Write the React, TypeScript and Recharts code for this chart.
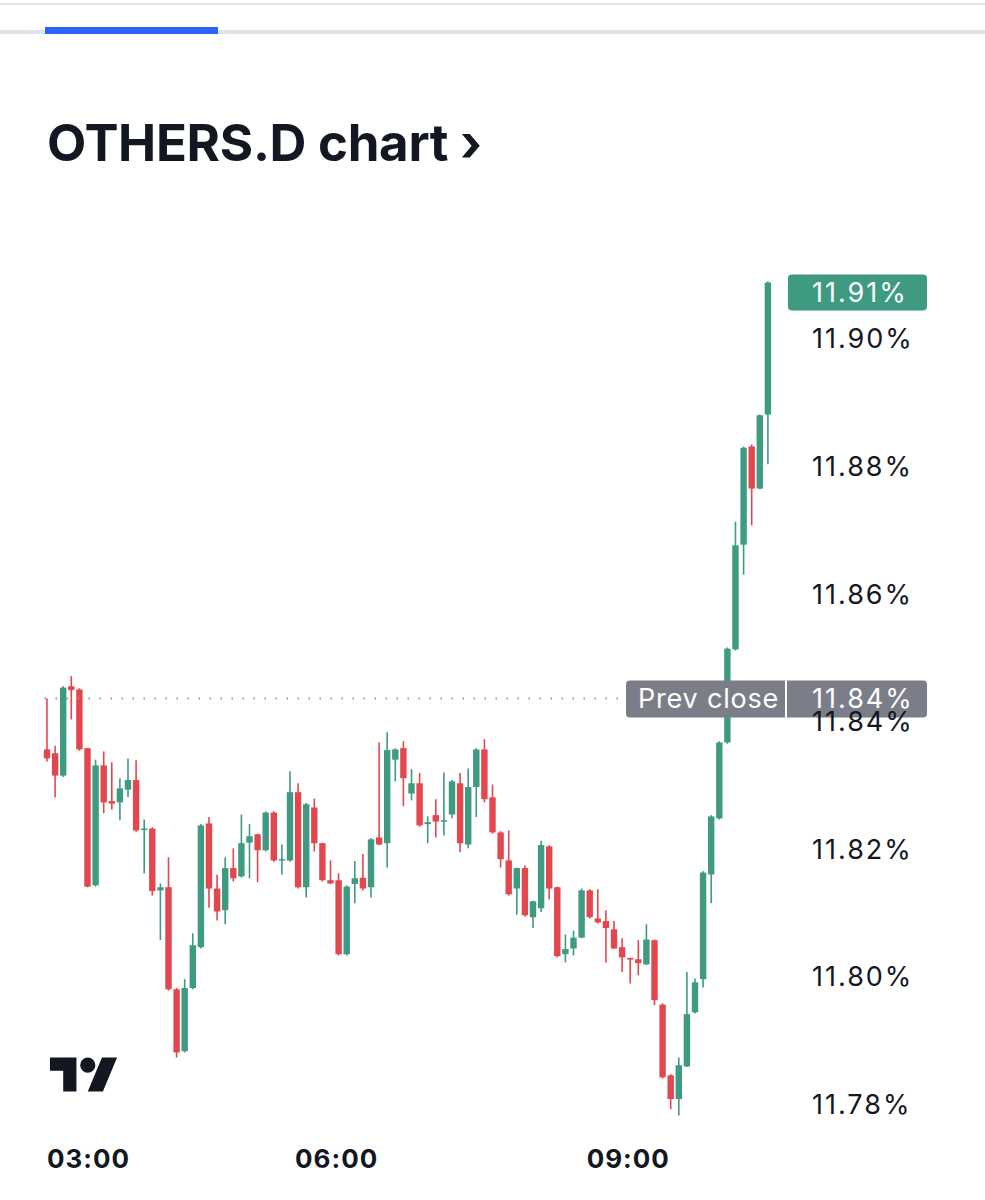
import { ComposedChart, Bar, XAxis, YAxis, ReferenceLine } from 'recharts';

// 5-minute candles, 03:00 -> 10:25
const OPENS = [
  11.8356, 11.8350, 11.8315, 11.8455, 11.8450, 11.8358, 11.8143, 11.8331, 11.8275, 11.8273,
  11.8293, 11.8308, 11.8231, 11.8232, 11.8135, 11.8140, 11.7980, 11.7883, 11.7982, 11.8046,
  11.8240, 11.8138, 11.8104, 11.8170, 11.8157, 11.8210, 11.8223, 11.8198, 11.8257, 11.8182,
  11.8182, 11.8289, 11.8140, 11.8265, 11.8209, 11.8151, 11.8151, 11.8035, 11.8145, 11.8155,
  11.8140, 11.8218, 11.8209, 11.8340, 11.8358, 11.8287, 11.8303, 11.8239, 11.8253, 11.8243,
  11.8254, 11.8303, 11.8207, 11.8297, 11.8356, 11.8281, 11.8226, 11.8182, 11.8138, 11.8170,
  11.8093, 11.8107, 11.8204, 11.8140, 11.8035, 11.8044, 11.8061, 11.8135, 11.8091, 11.8087,
  11.8074, 11.8046, 11.8029, 11.8027, 11.8019, 11.8057, 11.7956, 11.7845, 11.7808, 11.7859,
  11.7944, 11.7996, 11.8160, 11.8248, 11.8367, 11.8513, 11.8677, 11.8831, 11.8765, 11.8881,
];
const HIGHS = [
  11.8436, 11.8362, 11.8455, 11.8471, 11.8452, 11.8358, 11.8340, 11.8353, 11.8336, 11.8311,
  11.8342, 11.8339, 11.8246, 11.8234, 11.8146, 11.8187, 11.7982, 11.7996, 11.8068, 11.8239,
  11.8250, 11.8160, 11.8187, 11.8201, 11.8254, 11.8239, 11.8224, 11.8259, 11.8259, 11.8207,
  11.8322, 11.8303, 11.8272, 11.8279, 11.8210, 11.8182, 11.8162, 11.8143, 11.8181, 11.8192,
  11.8217, 11.8367, 11.8383, 11.8358, 11.8369, 11.8325, 11.8319, 11.8251, 11.8278, 11.8320,
  11.8308, 11.8319, 11.8326, 11.8358, 11.8372, 11.8301, 11.8228, 11.8229, 11.8171, 11.8174,
  11.8119, 11.8213, 11.8206, 11.8141, 11.8066, 11.8072, 11.8138, 11.8137, 11.8137, 11.8104,
  11.8087, 11.8060, 11.8030, 11.8057, 11.8082, 11.8058, 11.7958, 11.7847, 11.7873, 11.8007,
  11.7997, 11.8165, 11.8253, 11.8369, 11.8516, 11.8713, 11.8831, 11.8834, 11.8881, 11.9090,
];
const LOWS = [
  11.8337, 11.8281, 11.8313, 11.8403, 11.8354, 11.8140, 11.8141, 11.8256, 11.8262, 11.8245,
  11.8281, 11.8227, 11.8162, 11.8127, 11.8057, 11.7978, 11.7873, 11.7881, 11.7980, 11.8044,
  11.8108, 11.8088, 11.8082, 11.8149, 11.8155, 11.8154, 11.8148, 11.8196, 11.8180, 11.8160,
  11.8180, 11.8138, 11.8124, 11.8196, 11.8149, 11.8145, 11.8033, 11.8033, 11.8115, 11.8135,
  11.8124, 11.8206, 11.8171, 11.8306, 11.8267, 11.8276, 11.8235, 11.8209, 11.8218, 11.8221,
  11.8248, 11.8195, 11.8201, 11.8250, 11.8273, 11.8224, 11.8171, 11.8127, 11.8097, 11.8094,
  11.8076, 11.8101, 11.8121, 11.8030, 11.8022, 11.8033, 11.8060, 11.8091, 11.8083, 11.8022,
  11.8043, 11.8007, 11.7989, 11.8002, 11.8018, 11.7955, 11.7840, 11.7792, 11.7782, 11.7858,
  11.7942, 11.7983, 11.8115, 11.8246, 11.8365, 11.8511, 11.8630, 11.8707, 11.8764, 11.8803,
];
const CLOSES = [
  11.8342, 11.8315, 11.8453, 11.8449, 11.8356, 11.8141, 11.8331, 11.8273, 11.8271, 11.8295,
  11.8308, 11.8229, 11.8232, 11.8134, 11.8140, 11.7980, 11.7881, 11.7982, 11.8049, 11.8237,
  11.8138, 11.8102, 11.8170, 11.8154, 11.8209, 11.8220, 11.8198, 11.8257, 11.8182, 11.8184,
  11.8289, 11.8140, 11.8270, 11.8209, 11.8151, 11.8146, 11.8035, 11.8141, 11.8154, 11.8138,
  11.8215, 11.8207, 11.8355, 11.8356, 11.8311, 11.8303, 11.8237, 11.8242, 11.8243, 11.8245,
  11.8306, 11.8209, 11.8297, 11.8356, 11.8278, 11.8226, 11.8184, 11.8129, 11.8170, 11.8096,
  11.8118, 11.8206, 11.8138, 11.8032, 11.8043, 11.8061, 11.8135, 11.8093, 11.8085, 11.8076,
  11.8044, 11.8030, 11.8027, 11.8021, 11.8058, 11.7963, 11.7842, 11.7808, 11.7861, 11.7941,
  11.7991, 11.8163, 11.8251, 11.8367, 11.8514, 11.8676, 11.8829, 11.8765, 11.8880, 11.9088,
];

const START_MIN = 3 * 60;
const STEP_MIN = 5;
const TIME_TICKS = ['03:00', '06:00', '09:00'];
const PRICE_TICKS = [11.78, 11.8, 11.82, 11.84, 11.86, 11.88, 11.9];
const PREV_CLOSE = 11.8436;

const GREEN = '#3f9a82';
const RED = '#e2474d';
const GREY = '#7b7d88';
const INK = '#131722';
const FONT = 'Inter, "Noto Sans", sans-serif';

const pad = (n: number) => String(n).padStart(2, '0');

const data = OPENS.map((open, i) => {
  const m = START_MIN + i * STEP_MIN;
  return {
    time: `${pad(Math.floor(m / 60))}:${pad(m % 60)}`,
    open,
    high: HIGHS[i],
    low: LOWS[i],
    close: CLOSES[i],
    range: [LOWS[i], HIGHS[i]],
  };
});
const last = data[data.length - 1];

function Candle(props: any) {
  const { x, width, payload } = props;
  let { y, height } = props;
  if (height < 0) { y += height; height = -height; }
  const up = payload.close >= payload.open;
  const color = up ? GREEN : RED;
  const k = height / (payload.high - payload.low);
  const yO = y + (payload.high - payload.open) * k;
  const yC = y + (payload.high - payload.close) * k;
  const top = Math.min(yO, yC);
  const h = Math.max(1.5, Math.abs(yO - yC));
  const cx = x + width / 2;
  return (
    <g>
      <line x1={cx} x2={cx} y1={y} y2={y + height} stroke={color} strokeWidth={1.6} />
      <rect x={cx - 3.2} y={top} width={6.4} height={h} fill={color} />
    </g>
  );
}

function TimeTick({ x, y, payload }: any) {
  const first = payload.value === '03:00';
  return (
    <text x={first ? x : x - 2} y={y + 24} textAnchor={first ? 'start' : 'middle'}
      fontFamily={FONT} fontSize={26} fontWeight={700} letterSpacing={1} fill={INK}>
      {payload.value}
    </text>
  );
}

function PriceTick({ x, y, payload }: any) {
  return (
    <text x={x + 32} y={y} dy="0.36em" textAnchor="start" fontFamily={FONT} fontSize={27}
      letterSpacing={2} fill={INK}>
      {`${payload.value.toFixed(2)}%`}
    </text>
  );
}

function LastPriceLabel({ viewBox }: any) {
  const right = viewBox.x + viewBox.width;
  const cy = viewBox.y + 10;
  return (
    <g>
      <rect x={right + 16} y={cy - 18} width={139} height={36} rx={4} fill={GREEN} />
      <text x={right + 40} y={cy} dy="0.36em" fontFamily={FONT} fontSize={27} letterSpacing={2} fill="#fff">
        {`${last.close.toFixed(2)}%`}
      </text>
    </g>
  );
}

function PrevCloseLabel({ viewBox }: any) {
  const right = viewBox.x + viewBox.width;
  const cy = viewBox.y;
  return (
    <g>
      <rect x={right - 146} y={cy - 18} width={301} height={37} rx={4} fill={GREY} />
      <line x1={right + 14} x2={right + 14} y1={cy - 18} y2={cy + 19} stroke="#fff" strokeWidth={2} />
      <text x={right - 134} y={cy} dy="0.36em" fontFamily={FONT} fontSize={27} letterSpacing={0.8} fill="#fff">Prev close</text>
      <text x={right + 40} y={cy} dy="0.36em" fontFamily={FONT} fontSize={27} letterSpacing={2} fill="#fff">
        {`${PREV_CLOSE.toFixed(2)}%`}
      </text>
    </g>
  );
}

function TvLogo() {
  return (
    <svg width={68} height={53} viewBox="0 0 36 28" style={{ position: 'absolute', left: 50, top: 1050 }}>
      <path d="M14 22H7V11H0V4h14v18zM28 22h-8l7.5-18h8L28 22z" fill={INK} />
      <circle cx={20} cy={8} r={4} fill={INK} />
    </svg>
  );
}

export default function App() {
  return (
    <div style={{ position: 'absolute', left: 0, top: 0, width: 985, height: 1200, background: '#fff', overflow: 'hidden', fontFamily: FONT }}>
      <div style={{ position: 'absolute', left: 0, top: 3, width: 985, height: 2, background: '#e0e3eb' }} />
      <div style={{ position: 'absolute', left: 0, top: 30, width: 985, height: 4, background: '#e0e3eb' }} />
      <div style={{ position: 'absolute', left: 45, top: 27, width: 173, height: 7, background: '#2962ff' }} />
      <div style={{ position: 'absolute', left: 47, top: 112, fontSize: 51, fontWeight: 700, color: INK, letterSpacing: -0.3, whiteSpace: 'nowrap' }}>
        OTHERS.D chart ›
      </div>
      <div style={{ position: 'absolute', left: 0, top: 0 }}>
        <ComposedChart width={985} height={1200} data={data} margin={{ top: 243, right: 0, bottom: 24, left: 43 }}>
          <XAxis dataKey="time" type="category" ticks={TIME_TICKS} interval={0} height={40}
            axisLine={false} tickLine={false} tick={<TimeTick />} />
          <YAxis orientation="right" type="number" domain={[11.775, 11.915]} ticks={PRICE_TICKS} width={213}
            axisLine={false} tickLine={false} tick={<PriceTick />} allowDataOverflow />
          <Bar dataKey="range" barSize={6} shape={<Candle />} isAnimationActive={false} />
          <ReferenceLine y={PREV_CLOSE} stroke="#9598a1" strokeWidth={2} strokeDasharray="1.5 9.5"
            label={<PrevCloseLabel />} />
          <ReferenceLine y={last.close} stroke="none" label={<LastPriceLabel />} />
        </ComposedChart>
      </div>
      <TvLogo />
    </div>
  );
}
